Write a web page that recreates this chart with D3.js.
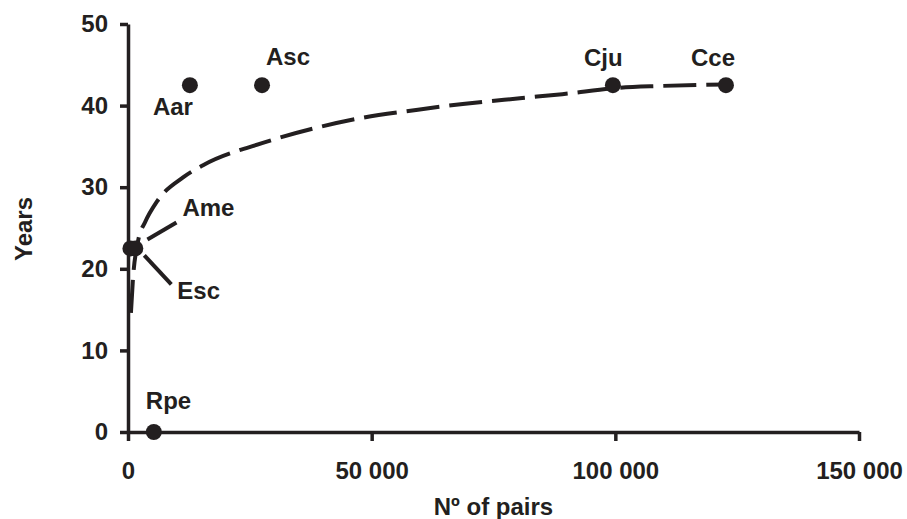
<!DOCTYPE html>
<html>
<head>
<meta charset="utf-8">
<script src="https://cdn.jsdelivr.net/npm/d3@7"></script>
<style>
  body { margin: 0; background: #fff; }
  text { font-family: "Liberation Sans", Arial, sans-serif; font-weight: bold; fill: #231f20; }
</style>
</head>
<body>
<div id="chart"></div>
<script>
// species codes and their values
var species = ["Aar", "Asc", "Cju", "Cce", "Ame", "Esc", "Rpe"];
var pairs   = [12700, 27500, 99500, 122700, 500, 1500, 5300];
var years   = [42.5, 42.5, 42.5, 42.5, 22.5, 22.5, 0];

// dashed trend line
var trendPairs = [600, 1000, 2100, 3500, 6000, 11300, 15400, 27500, 38800, 48000, 59500, 68700, 80400, 89100, 101000, 109000, 122700];
var trendYears = [14.6, 18.6, 23.5, 25.7, 28.3, 31.2, 32.7, 35.4, 37.3, 38.5, 39.5, 40.2, 40.9, 41.4, 42.2, 42.4, 42.6];

var xTicks = [0, 50000, 100000, 150000];
var yTicks = [0, 10, 20, 30, 40, 50];

// label offsets from the dot (dx, dy) and optional leader line
var labelPos = {
  Aar: { dx: -37, dy: 30 },
  Asc: { dx: 4, dy: -20 },
  Cju: { dx: -29, dy: -19 },
  Cce: { dx: -35, dy: -19 },
  Ame: { dx: 52, dy: -32, lead: [17, -9, 46, -26] },
  Esc: { dx: 42, dy: 51, lead: [9, 7, 36, 36] },
  Rpe: { dx: -8, dy: -23 }
};

var ink = "#231f20";
var margin = { top: 24, right: 48, bottom: 87, left: 128 },
    width = 907 - margin.left - margin.right,
    height = 519 - margin.top - margin.bottom;

var x = d3.scaleLinear().domain([0, 150000]).range([0, width]);
var y = d3.scaleLinear().domain([0, 50]).range([height, 0]);

var svg = d3.select("#chart").append("svg")
    .attr("width", 907)
    .attr("height", 519)
  .append("g")
    .attr("transform", "translate(" + margin.left + "," + margin.top + ")");

var fmt = function (d) { return d3.format(",")(d).replace(/,/g, " "); };

// axes
var xAxis = svg.append("g")
    .attr("transform", "translate(0," + height + ")")
    .call(d3.axisBottom(x).tickValues(xTicks).tickSize(9).tickPadding(21).tickSizeOuter(0).tickFormat(fmt));
var yAxis = svg.append("g")
    .call(d3.axisLeft(y).tickValues(yTicks).tickSize(8).tickPadding(12).tickSizeOuter(0));

[xAxis, yAxis].forEach(function (a) {
  a.select(".domain").attr("stroke", ink).attr("stroke-width", 3.5);
  a.selectAll(".tick line").attr("stroke", ink).attr("stroke-width", 3.5);
  a.selectAll(".tick text").style("font-size", "24px").attr("fill", ink);
});

// trend line
var trend = trendPairs.map(function (p, i) { return [p, trendYears[i]]; });
svg.append("path")
    .datum(trend)
    .attr("fill", "none")
    .attr("stroke", ink)
    .attr("stroke-width", 4)
    .attr("stroke-dasharray", "33,10")
    .attr("d", d3.line()
      .x(function (d) { return x(d[0]); })
      .y(function (d) { return y(d[1]); })
      .curve(d3.curveMonotoneX));

var data = species.map(function (s, i) { return { name: s, pairs: pairs[i], years: years[i] }; });

// dots
svg.selectAll(".dot")
    .data(data)
  .enter().append("circle")
    .attr("class", "dot")
    .attr("cx", function (d) { return x(d.pairs); })
    .attr("cy", function (d) { return y(d.years); })
    .attr("r", 8)
    .attr("fill", ink);

// leader lines
svg.selectAll(".lead")
    .data(data.filter(function (d) { return labelPos[d.name].lead; }))
  .enter().append("line")
    .attr("x1", function (d) { return x(d.pairs) + labelPos[d.name].lead[0]; })
    .attr("y1", function (d) { return y(d.years) + labelPos[d.name].lead[1]; })
    .attr("x2", function (d) { return x(d.pairs) + labelPos[d.name].lead[2]; })
    .attr("y2", function (d) { return y(d.years) + labelPos[d.name].lead[3]; })
    .attr("stroke", ink)
    .attr("stroke-width", 4);

// labels
svg.selectAll(".lbl")
    .data(data)
  .enter().append("text")
    .attr("x", function (d) { return x(d.pairs) + labelPos[d.name].dx; })
    .attr("y", function (d) { return y(d.years) + labelPos[d.name].dy; })
    .style("font-size", "24px")
    .text(function (d) { return d.name; });

// axis titles
svg.append("text")
    .attr("x", width / 2)
    .attr("y", height + 83)
    .attr("text-anchor", "middle")
    .style("font-size", "24px")
    .text("Nº of pairs");

svg.append("text")
    .attr("transform", "rotate(-90)")
    .attr("x", -(229 - margin.top))
    .attr("y", 32 - margin.left)
    .attr("text-anchor", "middle")
    .style("font-size", "24px")
    .text("Years");
</script>
</body>
</html>
